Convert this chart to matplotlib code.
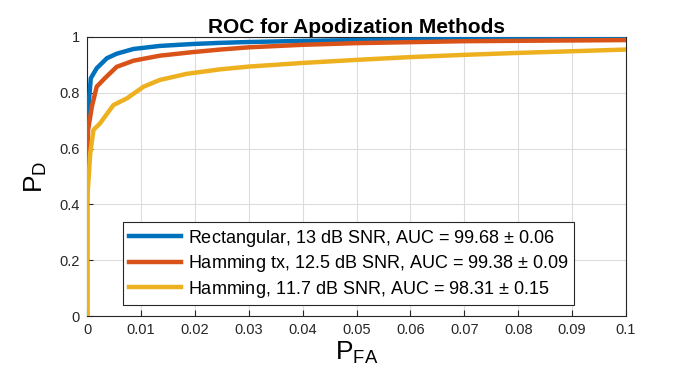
import numpy as np
import matplotlib
matplotlib.use("Agg")
import matplotlib.pyplot as plt

plt.rcParams['font.family'] = ['Liberation Sans', 'DejaVu Sans']
plt.rcParams['mathtext.fontset'] = 'custom'
plt.rcParams['mathtext.rm'] = 'Liberation Sans'

# ROC points (P_FA, P_D)
pfa_rect = [0, 0, 0.0002, 0.0007, 0.0018, 0.0037, 0.0055, 0.0086, 0.0135, 0.0197, 0.0247, 0.03, 0.04, 0.05, 0.06, 0.08, 0.1]
pd_rect = [0, 0.65, 0.73, 0.852, 0.888, 0.924, 0.94, 0.957, 0.968, 0.975, 0.979, 0.982, 0.986, 0.989, 0.991, 0.994, 0.996]

pfa_hamtx = [0, 0, 0.0002, 0.0009, 0.0018, 0.0033, 0.0055, 0.0086, 0.0135, 0.0197, 0.0247, 0.03, 0.04, 0.05, 0.07, 0.1]
pd_hamtx = [0, 0.52, 0.667, 0.75, 0.822, 0.852, 0.893, 0.915, 0.933, 0.946, 0.955, 0.963, 0.972, 0.978, 0.985, 0.989]

pfa_ham = [0, 0, 0.0006, 0.0012, 0.0024, 0.0049, 0.0074, 0.0105, 0.0135, 0.0185, 0.0247, 0.03, 0.04, 0.05, 0.06, 0.07, 0.08, 0.1]
pd_ham = [0, 0.405, 0.583, 0.667, 0.69, 0.756, 0.78, 0.822, 0.846, 0.868, 0.884, 0.894, 0.907, 0.918, 0.928, 0.936, 0.943, 0.955]

labels = ['Rectangular, 13 dB SNR, AUC = 99.68 $\\pm$ 0.06',
          'Hamming tx, 12.5 dB SNR, AUC = 99.38 $\\pm$ 0.09',
          'Hamming, 11.7 dB SNR, AUC = 98.31 $\\pm$ 0.15']
colors = ['#0072BD', '#D95319', '#EDB120']

fig = plt.figure(figsize=(6.76, 3.81), dpi=100)
ax = fig.add_axes([87/676, 1-316/381, 539/676, 279/381])

ax.plot(pfa_rect, pd_rect, color=colors[0], lw=3.2, label=labels[0], zorder=3)
ax.plot(pfa_hamtx, pd_hamtx, color=colors[1], lw=3.2, label=labels[1], zorder=4)
ax.plot(pfa_ham, pd_ham, color=colors[2], lw=3.2, label=labels[2], zorder=5)

ax.set_xlim(0, 0.1)
ax.set_ylim(0, 1)
ax.set_xticks(np.arange(0, 0.101, 0.01))
ax.set_xticklabels(['0', '0.01', '0.02', '0.03', '0.04', '0.05', '0.06', '0.07', '0.08', '0.09', '0.1'])
ax.set_yticks(np.arange(0, 1.01, 0.2))
ax.set_yticklabels(['0', '0.2', '0.4', '0.6', '0.8', '1'])
ax.tick_params(direction='in', length=4, labelsize=10.5, colors='#262626', pad=5)
ax.grid(True, color='#DCDCDC', lw=0.8)
ax.set_axisbelow(True)
for s in ax.spines.values():
    s.set_color('#262626')
    s.set_linewidth(0.8)

ax.set_title('ROC for Apodization Methods', fontsize=15, fontweight='bold', pad=3)
ax.set_xlabel(r'$\mathregular{P_{FA}}$', fontsize=19, labelpad=2)
ax.set_ylabel(r'$\mathregular{P_D}$', fontsize=19, labelpad=8)

leg = ax.legend(loc='lower left', bbox_to_anchor=(0.067, 0.039, 0.837, 0.3), mode='expand',
                borderaxespad=0, fontsize=13, handlelength=2.9, borderpad=0.3, labelspacing=0.25,
                handletextpad=0.4, fancybox=False, framealpha=1)
leg.get_frame().set_edgecolor('#262626')
leg.get_frame().set_linewidth(0.8)

fig.savefig('out.png', dpi=100)
